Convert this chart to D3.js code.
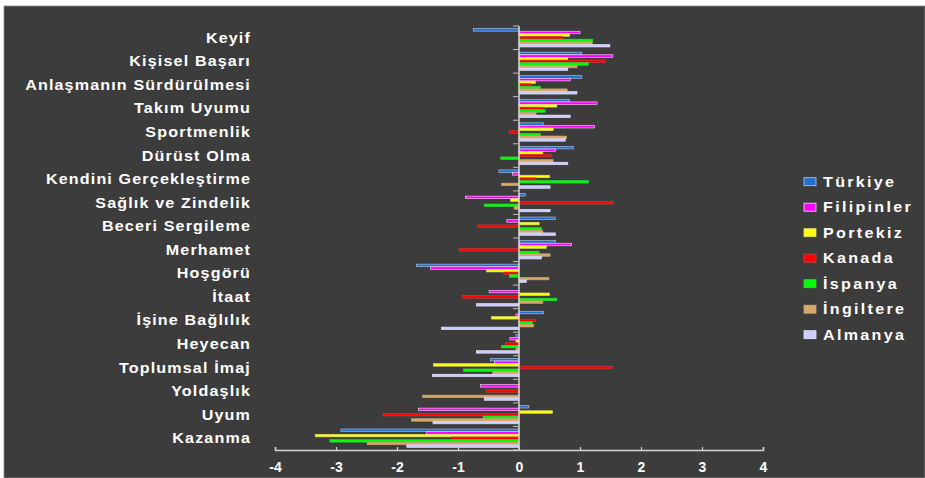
<!DOCTYPE html>
<html>
<head>
<meta charset="utf-8">
<script src="https://cdn.jsdelivr.net/npm/d3@7"></script>
<style>
  body { margin: 0; background: #fff; }
  text { font-family: "Liberation Sans", Arial, sans-serif; font-weight: bold; fill: #fff; }
</style>
</head>
<body>
<main></main>
<script>
// categories, top to bottom
const categories = ["Keyif", "Kişisel Başarı", "Anlaşmanın Sürdürülmesi", "Takım Uyumu", "Sportmenlik",
  "Dürüst Olma", "Kendini Gerçekleştirme", "Sağlık ve Zindelik", "Beceri Sergileme", "Merhamet",
  "Hoşgörü", "İtaat", "İşine Bağlılık", "Heyecan", "Toplumsal İmaj", "Yoldaşlık", "Uyum", "Kazanma"];

const seriesNames = ["Türkiye", "Filipinler", "Portekiz", "Kanada", "İspanya", "İngiltere", "Almanya"];

// one value per category, in the order above
const turkiye    = [-0.75, 1.03, 1.03, 0.83, 0.40, 0.89, -0.33, 0.10, 0.60, 0.60, -1.68, 0, 0.40, -0.05, -0.47, 0, 0.16, -2.92];
const filipinler = [1.00, 1.54, 0.84, 1.28, 1.24, 0.60, -0.11, -0.88, -0.20, 0.86, -1.45, -0.49, -0.05, -0.15, -0.40, -0.63, -1.65, -1.52];
const portekiz   = [0.83, 0.80, 0.27, 0.62, 0.56, 0.39, 0.50, -0.14, 0.33, 0.45, -0.53, 0.50, -0.45, -0.05, -1.40, 0, 0.55, -3.34];
const kanada     = [0.72, 1.42, 0.20, 0.39, -0.16, 0.54, 0.28, 1.54, -0.68, -0.98, -0.25, -0.93, 0.27, -0.22, 1.53, -0.53, -2.23, -1.11];
const ispanya    = [1.21, 1.14, 0.35, 0.43, 0.35, -0.30, 1.14, -0.57, 0.37, 0.33, -0.16, 0.62, 0.22, -0.29, -0.91, 0, -0.59, -3.10];
const ingiltere  = [1.20, 0.95, 0.79, 0.28, 0.78, 0.56, -0.29, -0.08, 0.39, 0.51, 0.49, 0.39, 0.24, -0.05, -0.43, -1.58, -1.76, -2.49];
const almanya    = [1.49, 0.80, 0.95, 0.84, 0.76, 0.80, 0.51, 0.51, 0.60, 0.37, 0.12, -0.70, -1.27, -0.70, -1.42, -0.57, -1.41, -1.84];

const xTicks = [-4, -3, -2, -1, 0, 1, 2, 3, 4];

const seriesValues = [turkiye, filipinler, portekiz, kanada, ispanya, ingiltere, almanya];
const fills   = ["#1f6fd2", "#ff00ff", "#ffff00", "#ff0000", "#00ff00", "#d6a86a", "#ccccff"];
const strokes = ["#b8cde8", "#ffd6ff", "#e0e080", "#d04040", "#40d040", "#c8a878", "#e8e8ff"];

const W = 925, H = 478;

const svg = d3.select("main").append("svg")
  .attr("width", W)
  .attr("height", H);

// dark chart area, white strip on top and left like the reference
svg.append("rect")
  .attr("x", 4).attr("y", 6)
  .attr("width", W - 4).attr("height", H - 6)
  .attr("fill", "#3c3c3c")
  .attr("stroke", "#8a8a8a")
  .attr("stroke-width", 0.8);

// scales
const x = d3.scaleLinear().domain([-4, 4]).range([275, 763]);
const y0 = d3.scaleBand().domain(categories).range([26, 450]).paddingInner(0.22).paddingOuter(0.11);
const y1 = d3.scaleBand().domain(seriesNames).range([0, y0.bandwidth()]).paddingInner(0.04);

// build rows
const rows = [];
categories.forEach((c, ci) => {
  seriesNames.forEach((s, si) => {
    rows.push({ cat: c, series: s, si: si, value: seriesValues[si][ci] });
  });
});

// bars
svg.append("g").selectAll("rect")
  .data(rows.filter(d => d.value !== 0))
  .enter().append("rect")
  .attr("x", d => x(Math.min(0, d.value)))
  .attr("y", d => y0(d.cat) + y1(d.series))
  .attr("width", d => Math.abs(x(d.value) - x(0)))
  .attr("height", y1.bandwidth())
  .attr("fill", d => fills[d.si])
  .attr("stroke", d => strokes[d.si])
  .attr("stroke-width", 0.6);

// zero line and category ticks
svg.append("line")
  .attr("x1", x(0)).attr("x2", x(0))
  .attr("y1", 26).attr("y2", 450)
  .attr("stroke", "#d4d4d4")
  .attr("stroke-width", 1.5);

const step = y0.step();
svg.append("g").selectAll("line")
  .data(d3.range(categories.length + 1))
  .enter().append("line")
  .attr("x1", x(0) - 6).attr("x2", x(0))
  .attr("y1", i => 26 + i * step).attr("y2", i => 26 + i * step)
  .attr("stroke", "#bdbdbd")
  .attr("stroke-width", 1);

// category labels (the reference text is a bit stretched sideways)
svg.append("g")
  .attr("transform", "translate(251,0) scale(1.15,1)")
  .selectAll("text")
  .data(categories)
  .enter().append("text")
  .text(d => d)
  .attr("x", 0)
  .attr("y", d => y0(d) + y0.bandwidth() / 2 + 5)
  .attr("text-anchor", "end")
  .style("font-size", "14px")
  .style("letter-spacing", "1px");

// x axis
const xAxis = svg.append("g")
  .attr("transform", "translate(0,450)")
  .call(d3.axisBottom(x).tickValues(xTicks).tickSize(-3).tickPadding(10).tickFormat(d3.format("d")));

xAxis.select(".domain").attr("stroke", "#d4d4d4").attr("stroke-width", 1.5);
xAxis.selectAll(".tick line").attr("stroke", "#d4d4d4").attr("stroke-width", 1.2);
xAxis.selectAll(".tick text")
  .attr("fill", "#fff")
  .attr("dy", "0.85em")
  .style("font-size", "14px")
  .style("font-family", "'Liberation Sans', Arial, sans-serif")
  .style("font-weight", "bold")
  .text(d => d < 0 ? "-" + Math.abs(d) : d);

// legend
const legend = svg.append("g").selectAll("g")
  .data(seriesNames)
  .enter().append("g")
  .attr("transform", (d, i) => `translate(804, ${181.7 + i * 25.5})`);

legend.append("rect")
  .attr("x", 0).attr("y", -4)
  .attr("width", 12).attr("height", 8)
  .attr("fill", (d, i) => fills[i])
  .attr("stroke", (d, i) => strokes[i])
  .attr("stroke-width", 0.8);

legend.append("text")
  .text(d => d)
  .attr("transform", "translate(19,5) scale(1.15,1)")
  .style("font-size", "14px")
  .style("letter-spacing", "2px");
</script>
</body>
</html>
